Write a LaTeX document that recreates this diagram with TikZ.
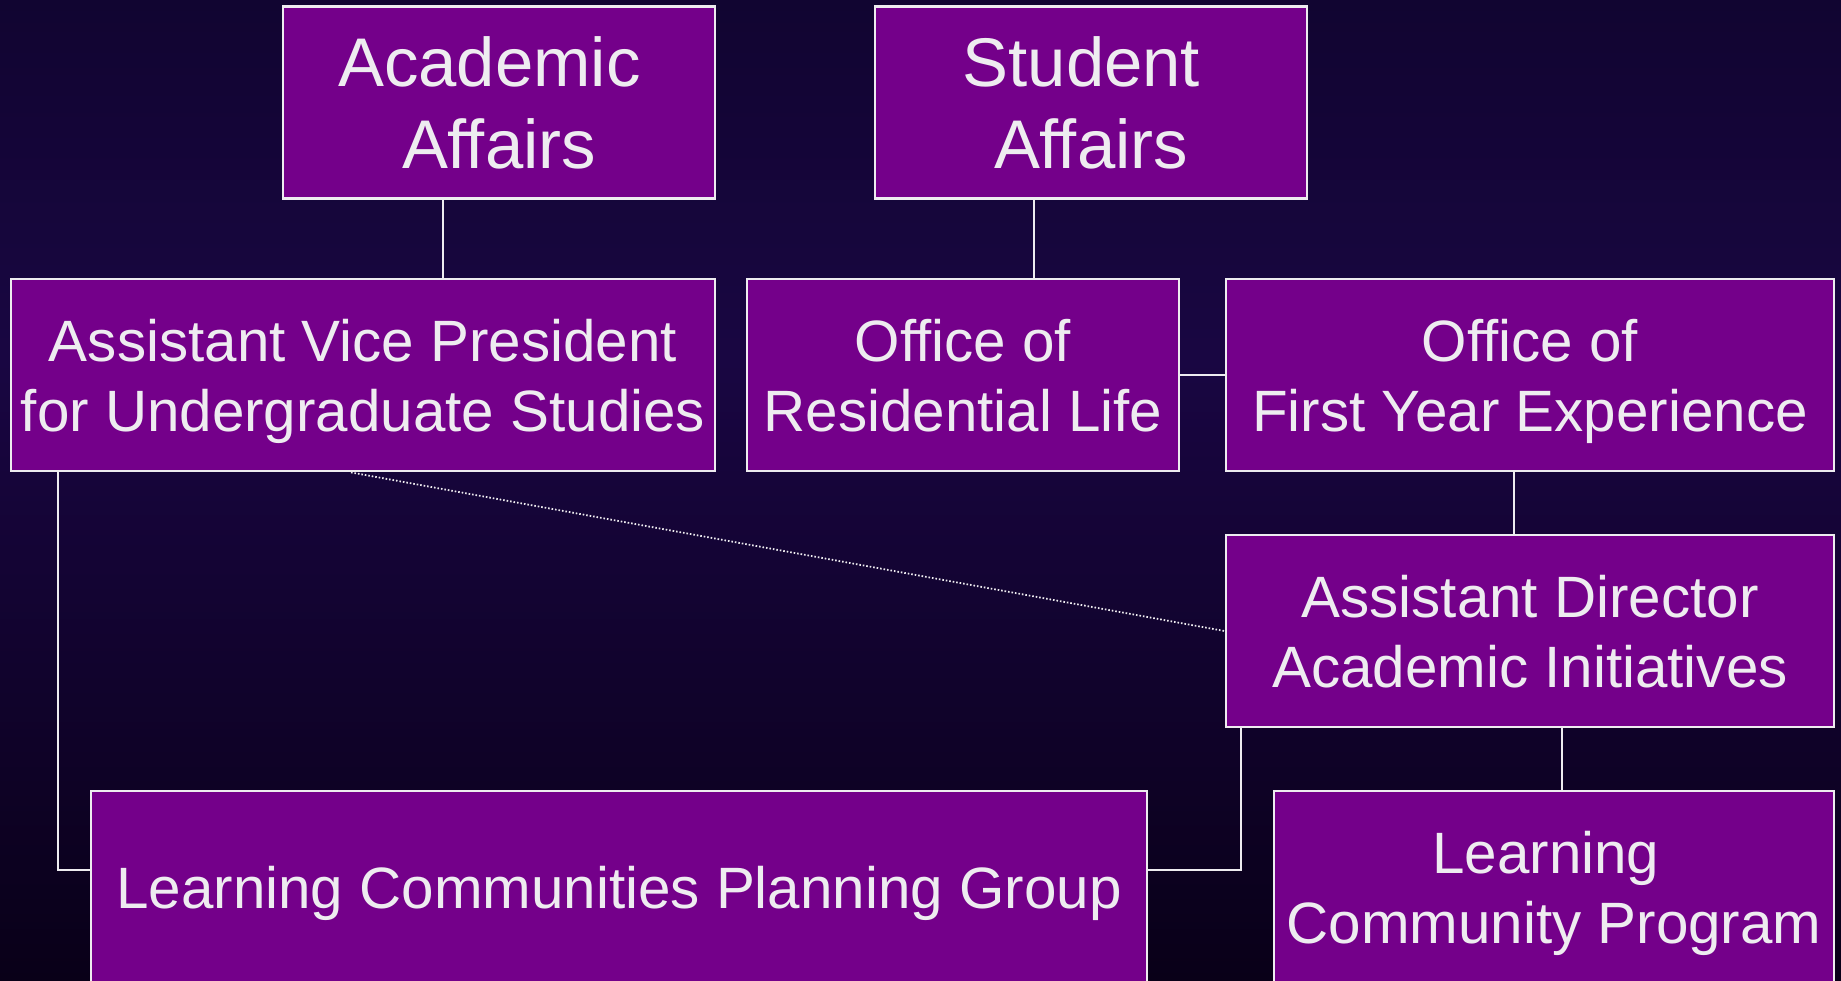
\documentclass[tikz,border=0pt]{standalone}
\usepackage{fontspec}
\setmainfont{Liberation Sans}
\usepackage{tikz}
\usetikzlibrary{positioning}

\definecolor{bgtop}{RGB}{17,5,49}
\definecolor{bgmid}{RGB}{25,6,66}
\definecolor{bgbot}{RGB}{9,0,24}
\definecolor{boxfill}{RGB}{116,0,138}
\definecolor{boxtext}{RGB}{238,236,240}

\begin{document}
\begin{tikzpicture}[
  unit/.style={rectangle, draw=boxtext, line width=0.8pt, fill=boxfill,
               text=boxtext, align=center, inner sep=0pt,
               minimum height=1.92cm, text depth=0pt,
               font=\fontsize{16.6}{19.9}\selectfont},
  head/.style={unit, minimum width=4.32cm,
               font=\fontsize{19.6}{23.3}\selectfont},
  link/.style={draw=boxtext, line width=0.6pt},
  dotlink/.style={link, line width=0.5pt, dash pattern=on 0.45pt off 0.55pt}
]
% page and background
\clip (0,0) rectangle (18.41,-9.80);
\shade[top color=bgtop, bottom color=bgmid] (0,0) rectangle (18.41,-3.6);
\shade[top color=bgmid, bottom color=bgbot] (0,-3.6) rectangle (18.41,-9.80);

% top level
\node[head] (acad) at (4.99,-1.025)  {Academic\kern0.28em\\Affairs};
\node[head] (stud) at (10.91,-1.025) {Student\kern0.28em\\Affairs};

% offices
\node[unit, minimum width=7.04cm] (avp) at (3.63,-3.75)
  {Assistant Vice President\\for Undergraduate Studies};
\node[unit, minimum width=4.32cm] (res) at (9.63,-3.75)
  {Office of\\Residential Life};
\node[unit, minimum width=6.08cm] (fye) at (15.30,-3.75)
  {Office of\\First Year Experience};
\node[unit, minimum width=6.08cm] (adir) at (15.30,-6.31)
  {Assistant Director\\Academic Initiatives};

% bottom row, runs off the page
\node[unit, minimum width=10.56cm] (lcpg) at (6.19,-8.87)
  {Learning Communities Planning Group};
\node[unit, minimum width=5.60cm] (lcp) at (15.54,-8.87)
  {Learning\kern0.28em\\Community Program};

% reporting lines
\draw[link] ([xshift=-0.56cm]acad.south) -- ([xshift=-0.56cm]acad.south |- avp.north);
\draw[link] ([xshift=-0.57cm]stud.south) -- ([xshift=-0.57cm]stud.south |- res.north);
\draw[link] (res.east) -- (fye.west);
\draw[link] ([xshift=-0.16cm]fye.south) -- ([xshift=-0.16cm]adir.north);
\draw[link] ([xshift=0.08cm]lcp.north) -- ([xshift=0.08cm]lcp.north |- adir.south);
\draw[link] ([xshift=0.48cm]avp.south west) |- ([yshift=0.17cm]lcpg.west);
\draw[link] ([xshift=0.16cm]adir.south west) |- ([yshift=0.17cm]lcpg.east);
\draw[dotlink] ([xshift=-0.12cm]avp.south) -- (adir.west);
\end{tikzpicture}
\end{document}
